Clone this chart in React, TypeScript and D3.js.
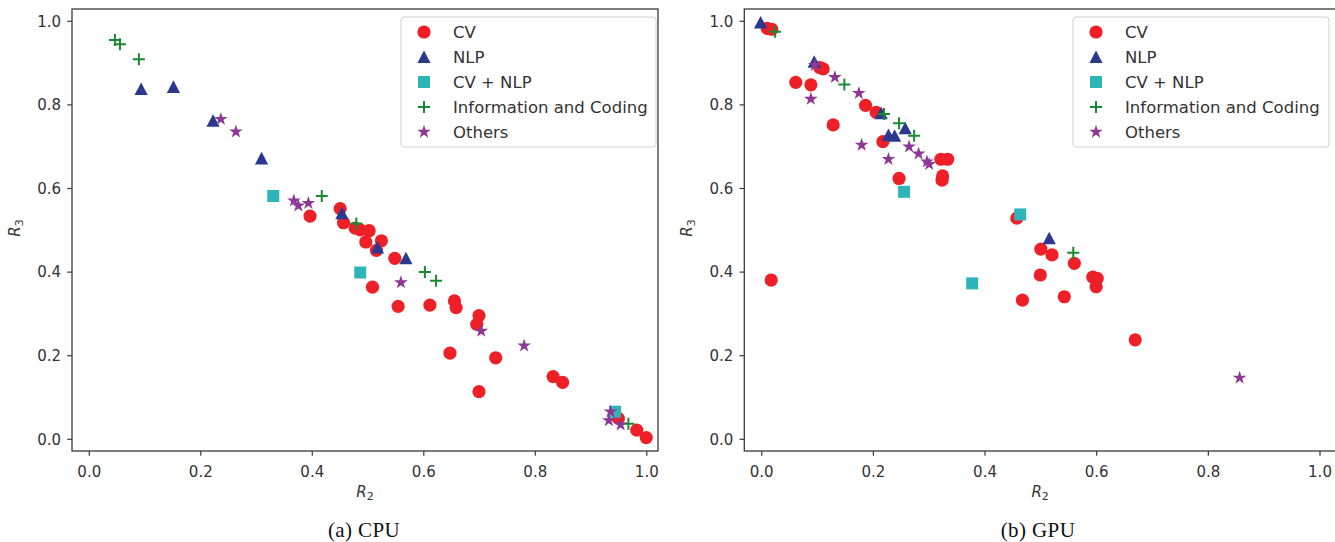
import React from "react";
import * as d3 from "d3";

type Pt = [number, number];

const categories = ["CV", "NLP", "CV + NLP", "Information and Coding", "Others"];
const xTicks = [0, 0.2, 0.4, 0.6, 0.8, 1.0];
const yTicks = [0, 0.2, 0.4, 0.6, 0.8, 1.0];
const captions = ["(a) CPU", "(b) GPU"];

// ---- CPU panel ----
const cpuCV: Pt[] = [
  [0.396, 0.534], [0.45, 0.552], [0.456, 0.518], [0.477, 0.505], [0.486, 0.501],
  [0.502, 0.499], [0.496, 0.472], [0.524, 0.475], [0.515, 0.452], [0.548, 0.433],
  [0.508, 0.364], [0.554, 0.318], [0.611, 0.321], [0.655, 0.331], [0.658, 0.315],
  [0.699, 0.296], [0.695, 0.275], [0.647, 0.206], [0.729, 0.195], [0.699, 0.114],
  [0.832, 0.15], [0.849, 0.136], [0.949, 0.05], [0.982, 0.022], [0.999, 0.004],
];
const cpuNLP: Pt[] = [
  [0.093, 0.838], [0.151, 0.843], [0.222, 0.762], [0.309, 0.672], [0.453, 0.541],
  [0.517, 0.459], [0.568, 0.433],
];
const cpuCVNLP: Pt[] = [[0.33, 0.582], [0.486, 0.399], [0.943, 0.066]];
const cpuInfo: Pt[] = [
  [0.046, 0.955], [0.055, 0.945], [0.089, 0.909], [0.417, 0.582], [0.479, 0.516],
  [0.602, 0.4], [0.622, 0.379], [0.967, 0.037],
];
const cpuOthers: Pt[] = [
  [0.236, 0.766], [0.263, 0.736], [0.367, 0.571], [0.375, 0.559], [0.393, 0.565],
  [0.559, 0.375], [0.703, 0.259], [0.78, 0.224], [0.935, 0.066], [0.932, 0.045],
  [0.953, 0.035],
];

// ---- GPU panel ----
const gpuCV: Pt[] = [
  [0.01, 0.983], [0.018, 0.981], [0.104, 0.889], [0.11, 0.886], [0.061, 0.854],
  [0.088, 0.848], [0.186, 0.799], [0.205, 0.782], [0.128, 0.752], [0.217, 0.712],
  [0.321, 0.67], [0.333, 0.67], [0.324, 0.63], [0.323, 0.62], [0.246, 0.624],
  [0.017, 0.381], [0.457, 0.529], [0.5, 0.455], [0.52, 0.441], [0.56, 0.421],
  [0.499, 0.393], [0.593, 0.388], [0.601, 0.385], [0.599, 0.365], [0.467, 0.333],
  [0.542, 0.341], [0.669, 0.238],
];
const gpuNLP: Pt[] = [
  [-0.002, 0.997], [0.094, 0.903], [0.214, 0.78], [0.257, 0.744], [0.227, 0.728],
  [0.238, 0.726], [0.515, 0.481],
];
const gpuCVNLP: Pt[] = [[0.255, 0.592], [0.377, 0.373], [0.463, 0.538]];
const gpuInfo: Pt[] = [
  [0.024, 0.975], [0.148, 0.849], [0.219, 0.778], [0.246, 0.756], [0.273, 0.726],
  [0.558, 0.446],
];
const gpuOthers: Pt[] = [
  [0.095, 0.895], [0.131, 0.866], [0.088, 0.814], [0.174, 0.828], [0.179, 0.704],
  [0.264, 0.7], [0.281, 0.683], [0.296, 0.664], [0.3, 0.658], [0.227, 0.67],
  [0.856, 0.147],
];

const cpuSeries = [cpuCV, cpuNLP, cpuCVNLP, cpuInfo, cpuOthers];
const gpuSeries = [gpuCV, gpuNLP, gpuCVNLP, gpuInfo, gpuOthers];

// ---- style ----
const colors = ["#ee1f26", "#2b3890", "#2fb4b8", "#1a8a30", "#8c3996"];
const shapes = ["circle", "triangle", "square", "plus", "star"];

const starPath = (() => {
  const pts: string[] = [];
  const R = 7.2, r = 7.2 * 0.381966;
  for (let i = 0; i < 10; i++) {
    const a = -Math.PI / 2 + (i * Math.PI) / 5;
    const rad = i % 2 === 0 ? R : r;
    pts.push(`${(rad * Math.cos(a)).toFixed(2)},${(rad * Math.sin(a)).toFixed(2)}`);
  }
  return "M" + pts.join("L") + "Z";
})();

function Marker({ shape, color, x, y }: { shape: string; color: string; x: number; y: number }) {
  const t = `translate(${x},${y})`;
  if (shape === "circle") return <circle cx={x} cy={y} r={6.6} fill={color} />;
  if (shape === "triangle")
    return <path transform={t} d="M0,-6.6L6.6,6L-6.6,6Z" fill={color} />;
  if (shape === "square") return <rect x={x - 6} y={y - 6} width={12} height={12} fill={color} />;
  if (shape === "plus")
    return <path transform={t} d="M-6,0H6M0,-6V6" stroke={color} strokeWidth={2} fill="none" />;
  return <path transform={t} d={starPath} fill={color} />;
}

const panels = [
  { left: 72, right: 658, xDomain: [-0.031, 1.0201], series: cpuSeries, legendX: 401, legendW: 255, caption: 0, captionX: 364 },
  { left: 744.3, right: 1340, xDomain: [-0.0312, 1.0358], series: gpuSeries, legendX: 1073, legendW: 256, caption: 1, captionX: 1038 },
];
const TOP = 9, BOTTOM = 451;
const font = "'DejaVu Sans', sans-serif";

function Panel({ p }: { p: (typeof panels)[number] }) {
  const x = d3.scaleLinear().domain(p.xDomain).range([p.left, p.right]);
  const y = d3.scaleLinear().domain([-0.028, 1.0294]).range([BOTTOM, TOP]);
  const spine = "#3a3a3a";
  const cx = (p.left + Math.min(p.right, 1336)) / 2;
  return (
    <g>
      {p.series.map((pts, si) =>
        pts.map((d, i) => (
          <Marker key={`${si}-${i}`} shape={shapes[si]} color={colors[si]} x={x(d[0])} y={y(d[1])} />
        ))
      )}
      {/* spines */}
      <rect x={p.left} y={TOP} width={p.right - p.left} height={BOTTOM - TOP} fill="none" stroke={spine} strokeWidth={1.3} />
      {/* x ticks */}
      {xTicks.map((t) => (
        <g key={`x${t}`}>
          <line x1={x(t)} x2={x(t)} y1={BOTTOM} y2={BOTTOM + 4.8} stroke={spine} strokeWidth={1.2} />
          <text x={x(t)} y={BOTTOM + 25.5} textAnchor="middle" fontFamily={font} fontSize={15} fill="#333">
            {d3.format(".1f")(t)}
          </text>
        </g>
      ))}
      {yTicks.map((t) => (
        <g key={`y${t}`}>
          <line x1={p.left - 4.8} x2={p.left} y1={y(t)} y2={y(t)} stroke={spine} strokeWidth={1.2} />
          <text x={p.left - 11} y={y(t) + 5.4} textAnchor="end" fontFamily={font} fontSize={15} fill="#333">
            {d3.format(".1f")(t)}
          </text>
        </g>
      ))}
      {/* axis labels */}
      <text x={cx} y={497} textAnchor="middle" fontFamily={font} fontSize={15} fill="#333">
        <tspan fontStyle="italic">R</tspan>
        <tspan fontSize={11} dy={3}>2</tspan>
      </text>
      <text
        transform={`translate(${p.left - 52},${(TOP + BOTTOM) / 2 - 2}) rotate(-90)`}
        textAnchor="middle"
        fontFamily={font}
        fontSize={15}
        fill="#333"
      >
        <tspan fontStyle="italic">R</tspan>
        <tspan fontSize={11} dy={3}>3</tspan>
      </text>
      {/* legend */}
      <rect x={p.legendX} y={17} width={p.legendW} height={130} rx={3} fill="#fff" fillOpacity={0.85} stroke="#d0d0d0" strokeWidth={1} />
      {categories.map((c, i) => {
        const ry = 32 + i * 25;
        return (
          <g key={c}>
            <Marker shape={shapes[i]} color={colors[i]} x={p.legendX + 23} y={ry} />
            <text x={p.legendX + 52} y={ry + 6} fontFamily={font} fontSize={16.5} fill="#333">
              {c}
            </text>
          </g>
        );
      })}
      {/* caption */}
      <text x={p.captionX} y={537} textAnchor="middle" fontFamily="'Liberation Serif', 'DejaVu Serif', serif" fontSize={21} letterSpacing={0.4} fill="#111">
        {captions[p.caption]}
      </text>
    </g>
  );
}

export default function App() {
  return (
    <div style={{ position: "absolute", left: 0, top: 0 }}>
      <svg width={1335} height={542} viewBox="0 0 1335 542" style={{ display: "block", background: "#fff" }}>
        {panels.map((p, i) => (
          <Panel key={i} p={p} />
        ))}
      </svg>
    </div>
  );
}
